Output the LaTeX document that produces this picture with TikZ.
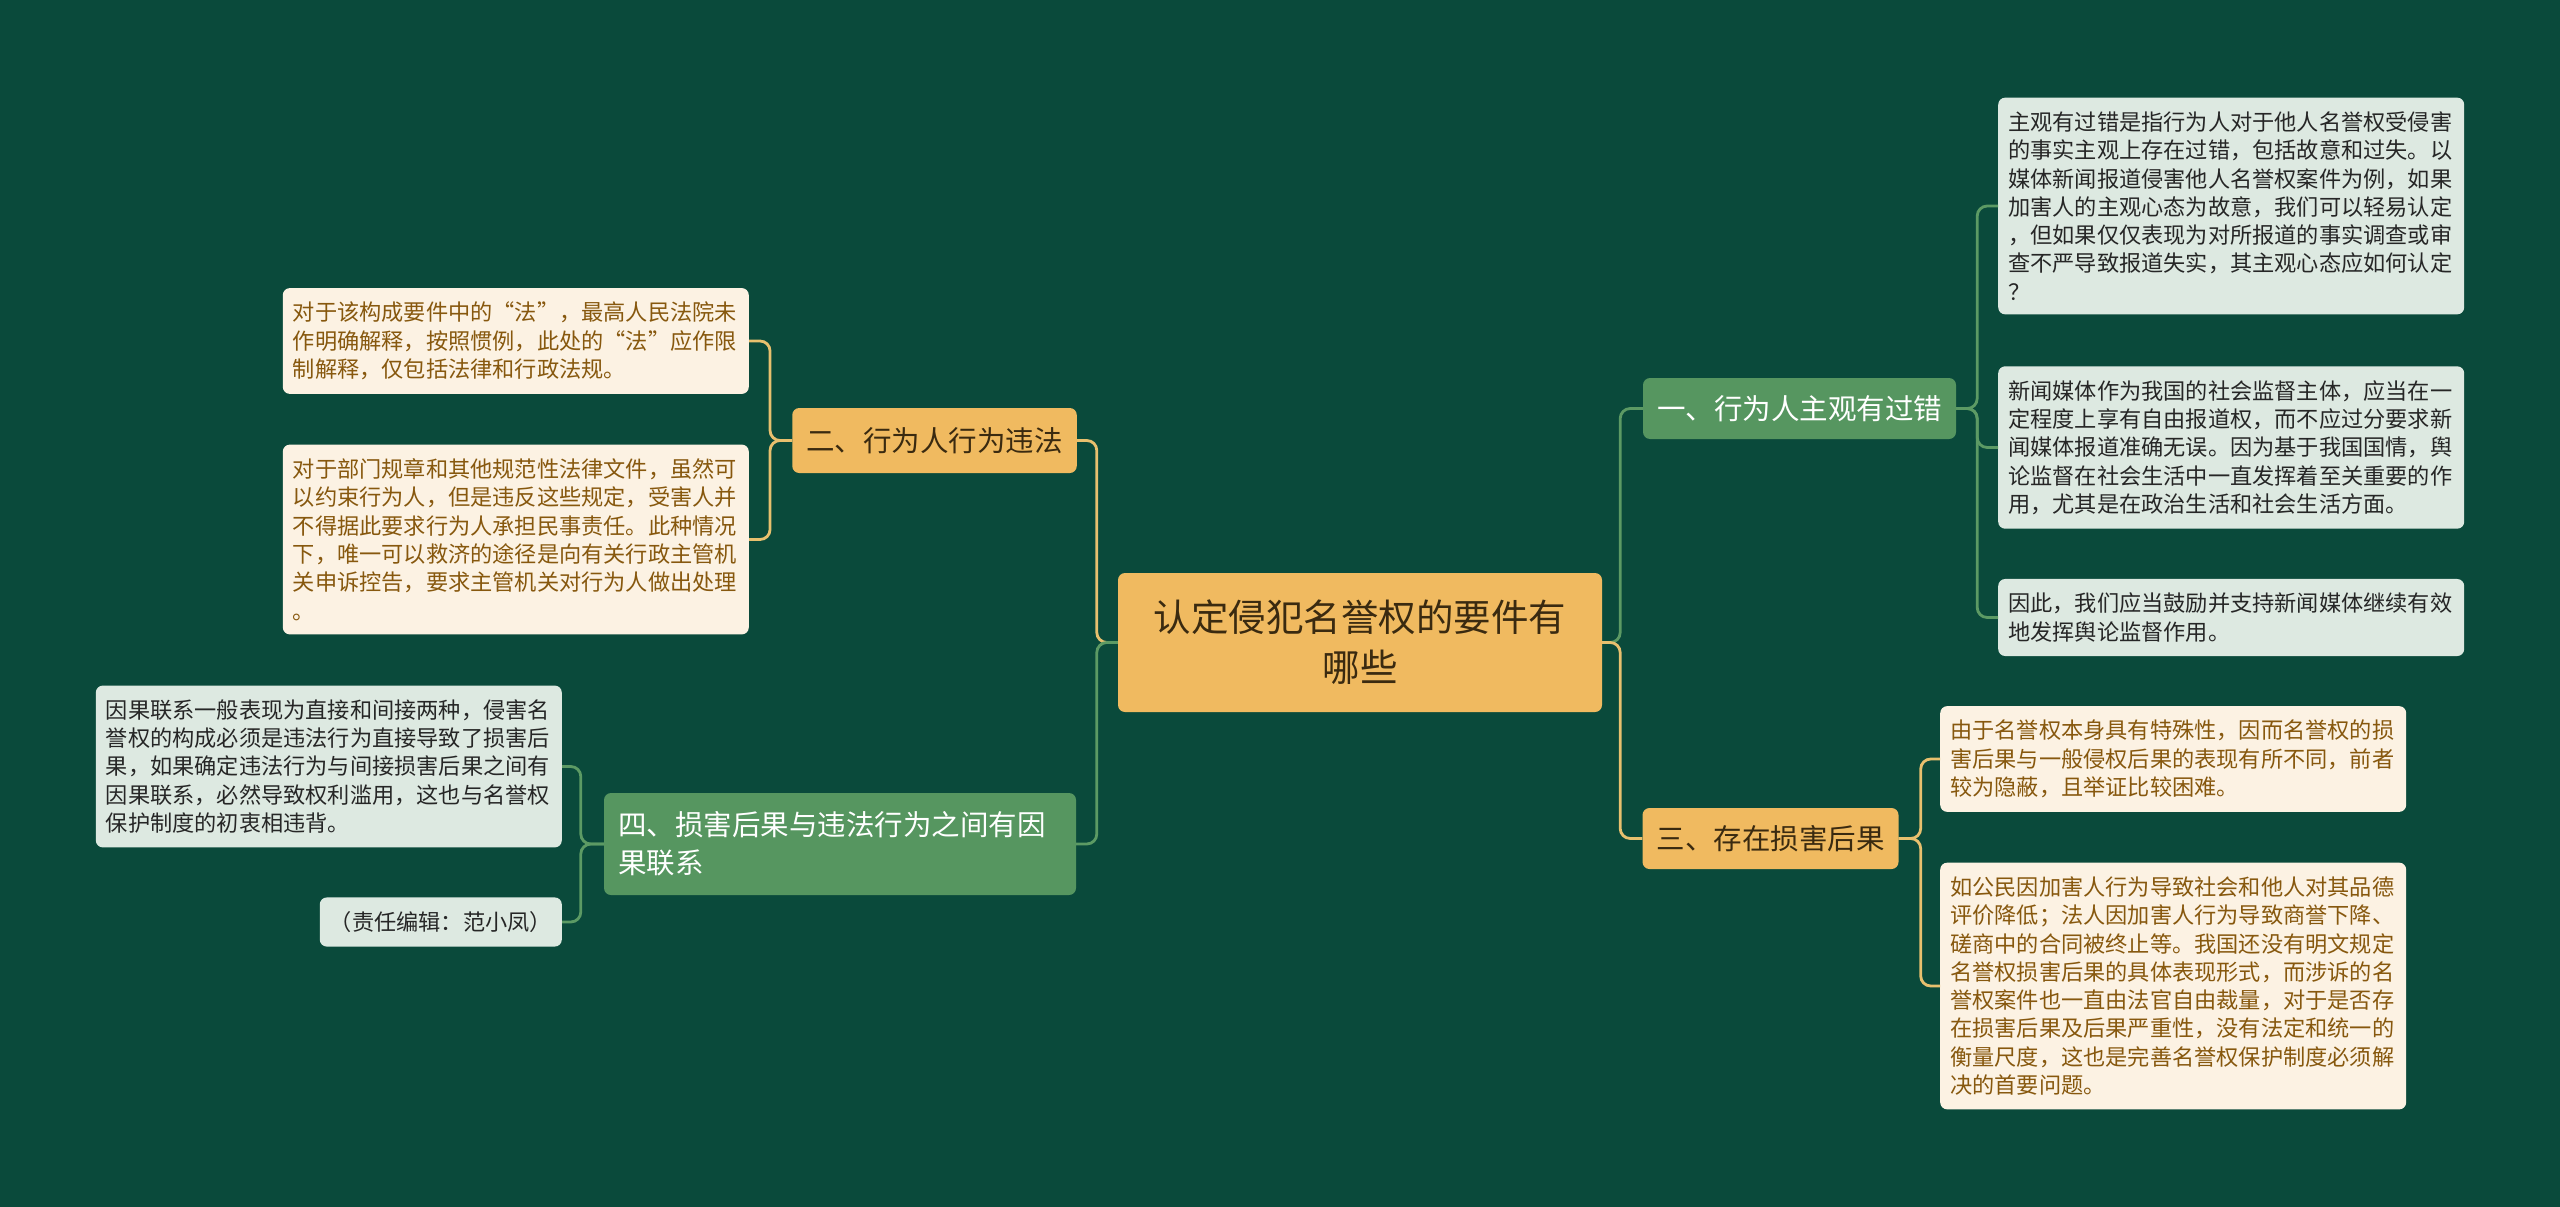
\documentclass[tikz,border=0pt]{standalone}
\usepackage{fontspec}
\setmainfont{Noto Sans CJK SC}
\newfontfamily\fwfont[RawFeature=+fwid]{Noto Sans CJK SC}
\newcommand{\fwq}[1]{{\fwfont #1}}

\definecolor{bgcol}{RGB}{10,74,59}
\definecolor{orgfill}{RGB}{240,186,96}
\definecolor{grnfill}{RGB}{86,150,96}
\definecolor{leafgrn}{RGB}{221,233,225}
\definecolor{leafcrm}{RGB}{252,242,227}
\definecolor{browntxt}{RGB}{135,88,14}
\definecolor{darktxt}{RGB}{58,42,16}
\definecolor{orgline}{RGB}{232,192,110}
\definecolor{grnline}{RGB}{92,154,100}

\begin{document}
\begin{tikzpicture}[x=1pt,y=-1pt,
	root/.style={ rounded corners=7pt, fill=orgfill, text=darktxt, align=center, minimum width=484pt, minimum height=139pt, font=\fontsize{37.5}{50}\selectfont },
	brancho/.style={ rounded corners=7pt, fill=orgfill, text=darktxt, inner xsep=14pt, minimum height=61pt, font=\fontsize{28.5}{38}\selectfont },
	branchg/.style={ rounded corners=7pt, fill=grnfill, text=white, inner xsep=14pt, minimum height=61pt, font=\fontsize{28.5}{38}\selectfont },
	leafg/.style={ rounded corners=7pt, fill=leafgrn, text=black!85, align=left, inner xsep=10pt, inner ysep=14pt, font=\fontsize{22.2}{28.3}\selectfont },
	leafc/.style={ rounded corners=7pt, fill=leafcrm, text=browntxt, align=left, inner xsep=10pt, inner ysep=14pt, font=\fontsize{22.2}{28.3}\selectfont },
	lineo/.style={ orgline, line width=2.8pt, rounded corners=10pt },
	lineg/.style={ grnline, line width=2.8pt, rounded corners=10pt }
]

\fill[bgcol] (0,0) rectangle (2560,1207);
\useasboundingbox (0,0) rectangle (2560,1207);

\node at (1360,642.5) (root) [root] {认定侵犯名誉权的要件有\\哪些};

% right side
\node at (1799.5,408.5) (one) [branchg] {一、行为人主观有过错};
\node at (1770.5,838.5) (three) [brancho] {三、存在损害后果};

\node at (1998,206) (onea) [leafg,anchor=west,text width=446pt] {主观有过错是指行为人对于他人名誉权受侵害\\的事实主观上存在过错，包括故意和过失。以\\媒体新闻报道侵害他人名誉权案件为例，如果\\加害人的主观心态为故意，我们可以轻易认定\\，但如果仅仅表现为对所报道的事实调查或审\\查不严导致报道失实，其主观心态应如何认定\\？};
\node at (1998,447.5) (oneb) [leafg,anchor=west,text width=446pt] {新闻媒体作为我国的社会监督主体，应当在一\\定程度上享有自由报道权，而不应过分要求新\\闻媒体报道准确无误。因为基于我国国情，舆\\论监督在社会生活中一直发挥着至关重要的作\\用，尤其是在政治生活和社会生活方面。};
\node at (1998,617.5) (onec) [leafg,anchor=west,text width=446pt] {因此，我们应当鼓励并支持新闻媒体继续有效\\地发挥舆论监督作用。};

\node at (1940,759) (threea) [leafc,anchor=west,text width=446pt] {由于名誉权本身具有特殊性，因而名誉权的损\\害后果与一般侵权后果的表现有所不同，前者\\较为隐蔽，且举证比较困难。};
\node at (1940,986) (threeb) [leafc,anchor=west,text width=446pt] {如公民因加害人行为导致社会和他人对其品德\\评价降低；法人因加害人行为导致商誉下降、\\磋商中的合同被终止等。我国还没有明文规定\\名誉权损害后果的具体表现形式，而涉诉的名\\誉权案件也一直由法官自由裁量，对于是否存\\在损害后果及后果严重性，没有法定和统一的\\衡量尺度，这也是完善名誉权保护制度必须解\\决的首要问题。};

% left side
\node at (934.5,440.5) (two) [brancho,minimum height=65pt] {二、行为人行为违法};
\node at (840,844) (four) [branchg,align=left,text width=444pt,minimum height=102pt] {四、损害后果与违法行为之间有因\\果联系};

\node at (749,341) (twoa) [leafc,anchor=east,text width=446pt] {对于该构成要件中的\fwq{“}法\fwq{”}，最高人民法院未\\作明确解释，按照惯例，此处的\fwq{“}法\fwq{”}应作限\\制解释，仅包括法律和行政法规。};
\node at (749,539.5) (twob) [leafc,anchor=east,text width=446pt] {对于部门规章和其他规范性法律文件，虽然可\\以约束行为人，但是违反这些规定，受害人并\\不得据此要求行为人承担民事责任。此种情况\\下，唯一可以救济的途径是向有关行政主管机\\关申诉控告，要求主管机关对行为人做出处理\\。};

\node at (562,766.5) (foura) [leafg,anchor=east,text width=446pt] {因果联系一般表现为直接和间接两种，侵害名\\誉权的构成必须是违法行为直接导致了损害后\\果，如果确定违法行为与间接损害后果之间有\\因果联系，必然导致权利滥用，这也与名誉权\\保护制度的初衷相违背。};
\node at (562,922) (fourb) [leafg,anchor=east] {（责任编辑：范小凤）};

% connectors
\draw[lineg] (root.east) -- ++(18,0) |- (one.west);
\draw[lineo] (root.east) -- ++(18,0) |- (three.west);
\draw[lineo] (root.west) -- ++(-21,0) |- (two.east);
\draw[lineg] (root.west) -- ++(-21,0) |- (four.east);
\foreach \p in {onea,oneb,onec} \draw[lineg] (one.east) -- ++(21,0) |- (\p.west);
\foreach \p in {threea,threeb} \draw[lineo] (three.east) -- ++(22,0) |- (\p.west);
\foreach \p in {twoa,twob} \draw[lineo] (two.west) -- ++(-22,0) |- (\p.east);
\foreach \p in {foura,fourb} \draw[lineg] (four.west) -- ++(-23,0) |- (\p.east);

\end{tikzpicture}
\end{document}
